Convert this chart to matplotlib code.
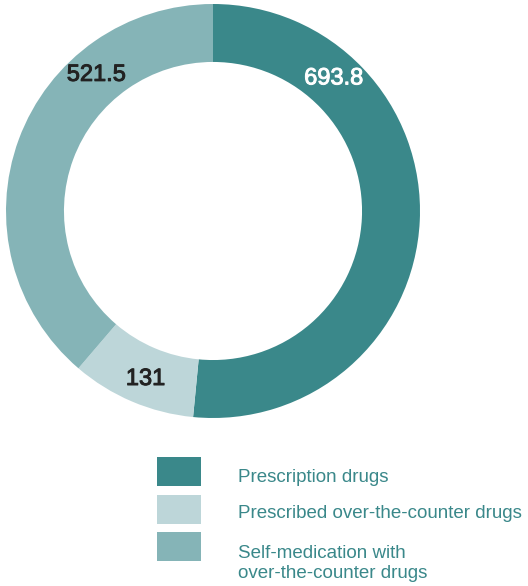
import numpy as np
import matplotlib
matplotlib.use("Agg")
import matplotlib.pyplot as plt
import matplotlib.patheffects as pe
from matplotlib.patches import Rectangle

plt.rcParams["font.family"] = ["Liberation Sans", "DejaVu Sans"]

# data
categories = ["Prescription drugs",
              "Prescribed over-the-counter drugs",
              "Self-medication with\nover-the-counter drugs"]
values = [693.8, 131, 521.5]
value_labels = ["693.8", "131", "521.5"]

colors = ["#3a888a", "#bdd6d9", "#85b4b7"]
label_colors = ["white", "#222222", "#222222"]
label_angles = [47.9, -112.0, 130.4]   # where the numbers sit (deg)
label_r = 0.87

fig = plt.figure(figsize=(5.28, 5.86), dpi=100)
ax = fig.add_axes([6 / 528, (586 - 418) / 586, 414 / 528, 414 / 586])
ax.pie(values, colors=colors, startangle=90, counterclock=False,
       radius=1.0, wedgeprops=dict(width=0.28, linewidth=0))
ax.set_xlim(-1, 1)
ax.set_ylim(-1, 1)
ax.set_aspect("equal")
ax.axis("off")

for txt, ang, c in zip(value_labels, label_angles, label_colors):
    a = np.deg2rad(ang)
    ax.text(label_r * np.cos(a), label_r * np.sin(a) - 0.005, txt, color=c,
            fontsize=17, ha="center", va="center",
            path_effects=[pe.withStroke(linewidth=0.7, foreground=c)])

# legend drawn by hand
box_tops = [457, 495, 532]
text_y = [477, 513, 563.5]
for col, lab, bt, ty in zip(colors, categories, box_tops, text_y):
    fig.patches.append(Rectangle((157 / 528, 1 - (bt + 29) / 586), 44 / 528, 29 / 586,
                                 transform=fig.transFigure, color=col, lw=0))
    fig.text(238 / 528, 1 - ty / 586, lab, color="#3a888a", fontsize=13.5,
             ha="left", va="center", linespacing=1.2)

fig.savefig("out.png", dpi=100)
